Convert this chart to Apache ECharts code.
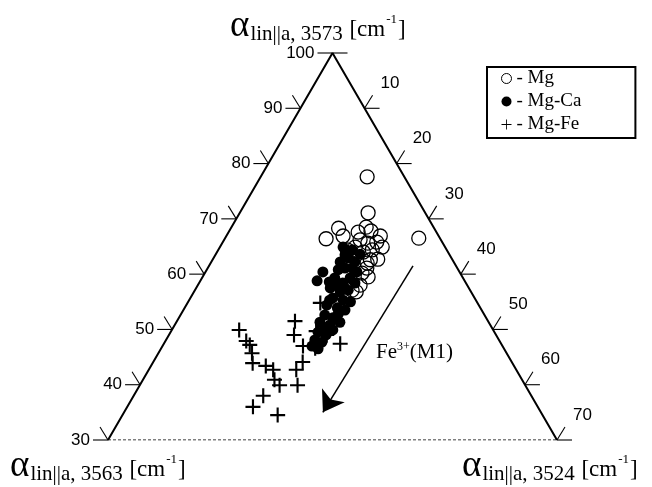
<!DOCTYPE html>
<html>
<head>
<meta charset="utf-8">
<script src="https://cdn.jsdelivr.net/npm/echarts@6/dist/echarts.min.js"></script>
<style>
  html, body { margin: 0; padding: 0; background: #fff; }
  #c { width: 652px; height: 487px; }
</style>
</head>
<body>
<div id="c"></div>
<script>
// Ternary composition data: each point is [α(3573), α(3524)]; α(3563) = 100 − the other two.
const mgPoints = [
  [77.6,16.6],[71.1,20.0],[68.3,16.8],[66.4,15.8],[66.9,18.2],[68.5,21.0],[67.8,22.1],
  [66.9,24.0],[66.2,21.2],[66.5,30.2],[65.8,24.0],[64.9,25.3],[65.6,22.7],[62.7,25.7],
  [64.0,22.8],[64.9,21.1],[64.4,20.1],[61.1,24.8],[60.2,24.5],[62.0,24.4],[59.5,25.8],
  [58.0,25.3],[62.6,24.6],[57.1,24.5],[64.4,24.0],[67.6,20.2],[62.2,21.6],[56.8,25.3]
];
const mgCaPoints = [
  [60.4,18.3],[58.8,18.2],[64.9,19.2],[64.4,20.9],[63.6,22.5],[62.9,21.0],[62.2,20.1],
  [62.2,22.4],[60.8,20.5],[60.4,23.6],[61.1,21.4],[59.3,20.7],[59.3,23.1],[58.4,22.4],
  [57.5,20.9],[56.8,22.8],[57.1,23.9],[55.7,22.2],[55.3,24.0],[54.4,21.9],[53.9,23.8],
  [53.5,25.2],[52.6,22.5],[52.1,24.0],[51.3,22.4],[50.8,24.2],[51.3,25.5],[49.5,23.0],
  [49.0,24.5],[48.1,23.2],[47.7,24.5],[47.0,23.3],[46.5,24.5],[49.9,25.1],[58.0,21.5],
  [55.0,25.3],[58.6,20.2],[63.5,20.2],[61.1,22.5],[55.3,21.9],[52.8,24.5],[50.3,23.7],
  [58.4,24.3]
];
const mgFePoints = [
  [49.9,10.5],[47.9,12.6],[47.2,13.5],[45.7,14.6],[43.9,15.6],[43.4,17.9],[42.7,19.4],
  [40.9,20.5],[39.9,21.8],[38.0,20.2],[36.0,19.6],[34.5,24.2],[51.5,18.4],[49.0,19.5],
  [47.0,21.9],[44.1,23.3],[42.7,23.0],[39.9,24.6],[54.8,20.7],[49.7,22.6],[49.0,24.6],
  [47.4,27.5],[46.6,24.0]
];
// Tick values on the left edge (α 3573) and right edge (α 3524)
const leftTicks = [100, 90, 80, 70, 60, 50, 40, 30];
const rightTicks = [10, 20, 30, 40, 50, 60, 70];
// Fe3+(M1) trend arrow, [α(3573), α(3524)] at start and end
const arrowFrom = [61.5, 31.8];
const arrowTo = [35.0, 31.0];
const seriesNames = ['Mg', 'Mg-Ca', 'Mg-Fe'];

const SQ = Math.sqrt(3) / 2;
// Map a ternary point (top component 30..100, right component 0..70) to the plane
function toXY(top, right) {
  const t = (top - 30) / 70;
  return [right / 70 + t / 2, t * SQ];
}

const SERIF = '"Liberation Serif", "Times New Roman", serif';
const SANS = '"Liberation Sans", Arial, sans-serif';
const crossPath = 'path://M-7,-1H-1V-7H1V-1H7V1H1V7H-1V1H-7Z';

const chart = echarts.init(document.getElementById('c'), null, { renderer: 'canvas' });

chart.setOption({
  animation: false,
  grid: { left: 108, top: 53, width: 449, height: 387 },
  xAxis: { type: 'value', min: 0, max: 1, show: false },
  yAxis: { type: 'value', min: 0, max: SQ, show: false },
  legend: {
    data: [
      { name: 'Mg', icon: 'circle', itemStyle: { color: 'rgba(0,0,0,0)', borderColor: '#000', borderWidth: 1 } },
      { name: 'Mg-Ca', icon: 'circle' },
      { name: 'Mg-Fe', icon: 'path://M-7,-0.6H-0.6V-7H0.6V-0.6H7V0.6H0.6V7H-0.6V0.6H-7Z' }
    ],
    orient: 'vertical',
    left: 487, top: 67,
    padding: [2, 54, 4, 14],
    itemGap: 4,
    itemWidth: 10, itemHeight: 10,
    borderColor: '#000', borderWidth: 2, borderRadius: 0,
    formatter: n => '- ' + n,
    textStyle: { fontFamily: SERIF, fontSize: 19, lineHeight: 18, color: '#000' }
  },
  series: [
    {
      type: 'line', silent: true, symbol: 'none',
      data: [toXY(30, 0), toXY(100, 0), toXY(30, 70)],
      lineStyle: { color: '#000', width: 2 }
    },
    {
      type: 'line', silent: true, symbol: 'none',
      data: [toXY(30, 0), toXY(30, 70)],
      lineStyle: { color: '#000', width: 1, type: [3, 2] }
    },
    {
      name: seriesNames[0], type: 'scatter', symbol: 'circle', symbolSize: 14,
      data: mgPoints.map(p => toXY(p[0], p[1])),
      itemStyle: { color: 'rgba(0,0,0,0)', borderColor: '#000', borderWidth: 1.3, opacity: 1 }
    },
    {
      name: seriesNames[1], type: 'scatter', symbol: 'circle', symbolSize: 11,
      data: mgCaPoints.map(p => toXY(p[0], p[1])),
      itemStyle: { color: '#000', opacity: 1 }
    },
    {
      name: seriesNames[2], type: 'scatter', symbol: crossPath, symbolSize: 15,
      data: mgFePoints.map(p => toXY(p[0], p[1])),
      itemStyle: { color: '#000', opacity: 1 }
    },
    {
      type: 'lines', coordinateSystem: 'cartesian2d', silent: true,
      symbol: ['none', 'arrow'], symbolSize: 20,
      data: [{ coords: [toXY(arrowFrom[0], arrowFrom[1]), toXY(arrowTo[0], arrowTo[1])] }],
      lineStyle: { color: '#000', width: 1.5, opacity: 1, curveness: 0 }
    }
  ]
});

// Edge ticks, tick labels and axis titles
const g = [];
const tickStyle = { stroke: '#000', lineWidth: 1.1 };
leftTicks.forEach(v => {
  const [px, py] = chart.convertToPixel({ gridIndex: 0 }, toXY(v, 0));
  g.push({ type: 'line', shape: { x1: px - 15, y1: py, x2: px, y2: py }, style: tickStyle });
  if (v !== 100) {
    g.push({ type: 'line', shape: { x1: px, y1: py, x2: px - 8, y2: py - 13 }, style: tickStyle });
  } else {
    g.push({ type: 'line', shape: { x1: px, y1: py, x2: px + 15, y2: py }, style: tickStyle });
  }
  g.push({
    type: 'text', x: px - 18, y: py,
    style: { text: String(v), align: 'right', verticalAlign: 'middle', font: '17px ' + SANS, fill: '#000' }
  });
});
rightTicks.forEach(v => {
  const [px, py] = chart.convertToPixel({ gridIndex: 0 }, toXY(100 - v, v));
  g.push({ type: 'line', shape: { x1: px, y1: py, x2: px + 15, y2: py }, style: tickStyle });
  g.push({ type: 'line', shape: { x1: px, y1: py, x2: px + 8, y2: py - 13 }, style: tickStyle });
  g.push({
    type: 'text', x: px + 16, y: py - 25,
    style: { text: String(v), align: 'left', verticalAlign: 'middle', font: '17px ' + SANS, fill: '#000' }
  });
});

const rich = {
  a: { fontFamily: SERIF, fontSize: 37, verticalAlign: 'bottom', lineHeight: 36 },
  s: { fontFamily: SERIF, fontSize: 21, verticalAlign: 'bottom', lineHeight: 24, padding: [0, 0, 0, 1] },
  b: { fontFamily: SERIF, fontSize: 23, verticalAlign: 'bottom', lineHeight: 27, padding: [0, 0, 4, 0] },
  p: { fontFamily: SERIF, fontSize: 13, verticalAlign: 'bottom', lineHeight: 14, padding: [0, 1, 19, 1] }
};
function axisTitle(sub, left, top) {
  return {
    type: 'text', left: left, top: top,
    style: { text: '{a|α}{s|' + sub + '}  {b|[cm}{p|-1}{b|]}', rich: rich, fill: '#000' }
  };
}
g.push(axisTitle('lin||a, 3573', 230, 8));
g.push(axisTitle('lin||a, 3563', 10, 448));
g.push(axisTitle('lin||a, 3524', 462, 448));

g.push({
  type: 'text', left: 376, top: 341,
  style: {
    text: '{f|Fe}{p|3+}{f|(M1)}',
    rich: {
      f: { fontFamily: SERIF, fontSize: 21, verticalAlign: 'bottom', lineHeight: 24 },
      p: { fontFamily: SERIF, fontSize: 12, verticalAlign: 'bottom', lineHeight: 14, padding: [0, 0, 10, 0] }
    },
    fill: '#000'
  }
});

chart.setOption({ graphic: g });
</script>
</body>
</html>
